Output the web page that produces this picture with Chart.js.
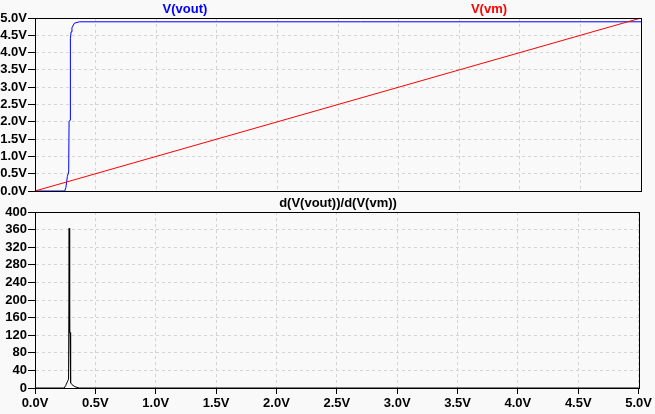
<!DOCTYPE html>
<html>
<head>
<meta charset="utf-8">
<script src="https://cdn.jsdelivr.net/npm/chart.js@4/dist/chart.umd.min.js"></script>
<style>
  body { margin: 0; background: #f9f9f9; }
  #wrap { position: relative; width: 655px; height: 414px; }
  canvas { position: absolute; left: 0; }
  .lbl { position: absolute; font: bold 13px "Liberation Sans", Arial, sans-serif; transform: translateX(-50%); white-space: nowrap; }
</style>
</head>
<body>
<div id="wrap">
  <canvas id="topChart" width="655" height="200" style="top:0"></canvas>
  <canvas id="botChart" width="655" height="214" style="top:200px"></canvas>
  <div class="lbl" style="left:185px; top:1px; color:#0000ff">V(vout)</div>
  <div class="lbl" style="left:489px; top:1px; color:#ff0000">V(vm)</div>
  <div class="lbl" style="left:338px; top:195px; color:#000">d(V(vout))/d(V(vm))</div>
</div>
<script>
// Sweep values (x = V(vm) in volts)
const vmX = [0, 5];
const vmY = [0, 5];

const voutX = [0, 0.245, 0.255, 0.267, 0.278, 0.281, 0.289, 0.292, 0.298, 0.305, 0.325, 0.366, 5];
const voutY = [0, 0, 0.1, 0.42, 0.55, 2.0, 2.05, 4.4, 4.6, 4.72, 4.85, 4.89, 4.89];

const derivX = [0, 0.242, 0.255, 0.268, 0.278, 0.283, 0.287, 0.290, 0.293, 0.297, 0.305, 0.33, 0.366, 5];
const derivY = [0, 0, 6, 14, 20, 363, 126, 126, 20, 12, 8, 3, 0, 0];

const xMin = 0, xMax = 5, xStep = 0.5;
const topMax = 5, topStep = 0.5;
const botMax = 400, botStep = 40;

const gridColor = '#d4d4d4';
const tickFont = { family: '"Liberation Sans", Arial, sans-serif', size: 13, weight: 'bold', lineHeight: 1 };

function pts(xs, ys) {
    return xs.map((x, i) => ({ x: x, y: ys[i] }));
}

// Draw the black box round the plot area
const frame = {
    id: 'frame',
    afterDraw(chart) {
        const a = chart.chartArea;
        const ctx = chart.ctx;
        ctx.save();
        ctx.strokeStyle = '#000';
        ctx.lineWidth = 1;
        ctx.strokeRect(Math.round(a.left) + 0.5, Math.round(a.top) + 0.5,
            Math.round(a.right - a.left), Math.round(a.bottom - a.top));
        ctx.restore();
    }
};

const baseOpts = {
    responsive: false,
    animation: false,
    plugins: { legend: { display: false }, tooltip: { enabled: false } },
    elements: { point: { radius: 0 }, line: { tension: 0, borderWidth: 1 } }
};

// Top pane: V(vout) and V(vm)
new Chart(document.getElementById('topChart').getContext('2d'), {
    type: 'line',
    data: {
        datasets: [
            { label: 'V(vm)', data: pts(vmX, vmY), borderColor: '#ff0000' },
            { label: 'V(vout)', data: pts(voutX, voutY), borderColor: '#0000ff' }
        ]
    },
    options: {
        ...baseOpts,
        layout: { padding: { top: 18, right: 14, bottom: 9, left: 0 } },
        scales: {
            x: {
                type: 'linear', min: xMin, max: xMax,
                ticks: { stepSize: xStep, display: false, autoSkip: false },
                grid: { color: gridColor, drawTicks: false },
                border: { color: '#000', dash: [3, 3] },
                afterFit: s => { s.height = 0; }
            },
            y: {
                min: 0, max: topMax,
                ticks: { stepSize: topStep, autoSkip: false, color: '#000', font: tickFont, padding: 1,
                         callback: v => v.toFixed(1) + 'V' },
                grid: { color: gridColor, tickColor: '#000', tickLength: 7 },
                border: { color: '#000', dash: [3, 3] },
                afterFit: s => { s.width = 35; }
            }
        }
    },
    plugins: [frame]
});

// Bottom pane: derivative
new Chart(document.getElementById('botChart').getContext('2d'), {
    type: 'line',
    data: {
        datasets: [
            { label: 'd(V(vout))/d(V(vm))', data: pts(derivX, derivY), borderColor: '#000000' }
        ]
    },
    options: {
        ...baseOpts,
        layout: { padding: { top: 12, right: 14, bottom: 0, left: 0 } },
        scales: {
            x: {
                type: 'linear', min: xMin, max: xMax,
                ticks: { stepSize: xStep, autoSkip: false, color: '#000', font: tickFont, padding: 3,
                         maxRotation: 0, callback: v => v.toFixed(1) + 'V' },
                grid: { color: gridColor, tickColor: '#000', tickLength: 6 },
                border: { color: '#000', dash: [3, 3] },
                afterFit: s => { s.height = 26; }
            },
            y: {
                min: 0, max: botMax,
                ticks: { stepSize: botStep, autoSkip: false, color: '#000', font: tickFont, padding: 1 },
                grid: { color: gridColor, tickColor: '#000', tickLength: 7 },
                border: { color: '#000', dash: [3, 3] },
                afterFit: s => { s.width = 35; }
            }
        }
    },
    plugins: [frame]
});
</script>
</body>
</html>
